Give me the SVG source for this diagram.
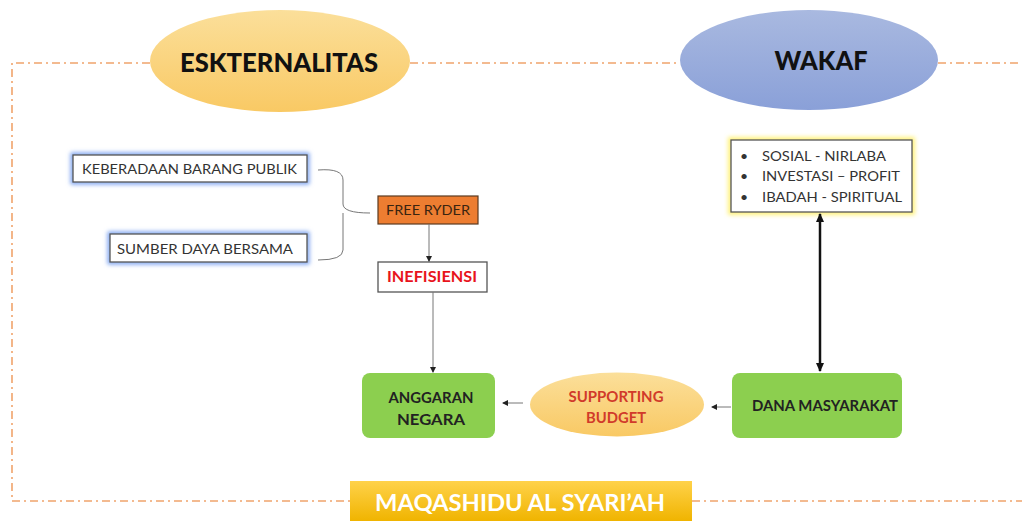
<svg xmlns="http://www.w3.org/2000/svg" width="1022" height="521" viewBox="0 0 1022 521">
<defs>
<linearGradient id="gOrange" x1="0" y1="0" x2="0" y2="1"><stop offset="0" stop-color="#fbdf9a"/><stop offset="1" stop-color="#f9c964"/></linearGradient>
<linearGradient id="gBlue" x1="0" y1="0" x2="0" y2="1"><stop offset="0" stop-color="#a9b9e0"/><stop offset="1" stop-color="#8aa0d8"/></linearGradient>
<linearGradient id="gGold" x1="0" y1="0" x2="0" y2="1"><stop offset="0" stop-color="#ffd24a"/><stop offset="1" stop-color="#f0b400"/></linearGradient>
<filter id="blur" x="-20%" y="-50%" width="140%" height="200%"><feGaussianBlur stdDeviation="2"/></filter>
<marker id="ah" markerWidth="6" markerHeight="6" refX="5" refY="3" orient="auto" markerUnits="userSpaceOnUse"><path d="M0,0 L6,3 L0,6 z" fill="#222"/></marker>
<marker id="ahB" markerWidth="10" markerHeight="10" refX="8" refY="5" orient="auto" markerUnits="userSpaceOnUse"><path d="M0,1 L9,5 L0,9 z" fill="#111"/></marker>
<marker id="ahBs" markerWidth="10" markerHeight="10" refX="2" refY="5" orient="auto" markerUnits="userSpaceOnUse"><path d="M10,1 L1,5 L10,9 z" fill="#111"/></marker>
</defs>
<style>
.frame{fill:none;stroke:#f0a46c;stroke-width:1.6;stroke-dasharray:8 4 2 4}
.t{font-family:Lato,"Open Sans","Liberation Sans",sans-serif}
.big{font-size:26px;font-weight:900;fill:#111;text-anchor:middle}
.box{fill:#fff;stroke:#555;stroke-width:1.3}
.glowB{fill:none;stroke:#7aa2f0;stroke-width:5}
.glowY{fill:none;stroke:#fff27a;stroke-width:6}
.lbl{font-size:14px;fill:#333}
.green{fill:#8ccf4f}
.gt{font-size:15px;font-weight:bold;fill:#222;text-anchor:middle}
.red{font-size:15px;font-weight:bold;fill:#d13a2a;text-anchor:middle}
.conn{fill:none;stroke:#777;stroke-width:1}
</style>

<g id="frame">
<path class="frame" d="M150,63 H12 V501 H350"/>
<path class="frame" d="M410,63 H680"/>
<path class="frame" d="M938,63 H1022"/>
<path class="frame" d="M692,501 H1022"/>
</g>

<g id="eksternalitas">
<ellipse cx="280" cy="61" rx="130" ry="51" fill="url(#gOrange)"/>
<text class="t big" x="279" y="72" textLength="198" lengthAdjust="spacingAndGlyphs">ESKTERNALITAS</text>
</g>

<g id="wakaf">
<ellipse cx="809" cy="60" rx="129" ry="50" fill="url(#gBlue)"/>
<text class="t big" x="821" y="70" textLength="93" lengthAdjust="spacingAndGlyphs">WAKAF</text>
</g>

<g id="keberadaan">
<rect class="glowB" x="73" y="155" width="234" height="27" filter="url(#blur)"/>
<rect class="box" x="73" y="155" width="234" height="27"/>
<text class="t lbl" x="82" y="174" textLength="215" lengthAdjust="spacingAndGlyphs">KEBERADAAN BARANG PUBLIK</text>
</g>

<g id="sumber">
<rect class="glowB" x="110" y="234" width="197" height="28" filter="url(#blur)"/>
<rect class="box" x="110" y="234" width="197" height="28"/>
<text class="t lbl" x="117" y="254" textLength="176" lengthAdjust="spacingAndGlyphs">SUMBER DAYA BERSAMA</text>
</g>

<g id="free-ryder">
<rect x="378" y="196" width="100" height="28" fill="#ed7d31" stroke="#5a3a20" stroke-width="1.2"/>
<text class="t" x="428" y="215" font-size="14" fill="#3a2410" text-anchor="middle" textLength="84" lengthAdjust="spacingAndGlyphs">FREE RYDER</text>
</g>

<g id="inefisiensi">
<rect class="box" x="378" y="262" width="109" height="30"/>
<text class="t red" x="432" y="282" fill="#e8141c" style="fill:#e8141c" textLength="90" lengthAdjust="spacingAndGlyphs">INEFISIENSI</text>
</g>

<g id="wakaf-list">
<rect class="glowY" x="731" y="140" width="181" height="72" filter="url(#blur)"/>
<rect class="box" x="731" y="140" width="181" height="72"/>
<g class="t lbl" fill="#222">
<text x="740" y="161">•</text><text x="762" y="161" textLength="124" lengthAdjust="spacingAndGlyphs">SOSIAL - NIRLABA</text>
<text x="740" y="181">•</text><text x="762" y="181" textLength="138" lengthAdjust="spacingAndGlyphs">INVESTASI – PROFIT</text>
<text x="740" y="202">•</text><text x="762" y="202" textLength="140" lengthAdjust="spacingAndGlyphs">IBADAH - SPIRITUAL</text>
</g>
</g>

<g id="anggaran">
<rect class="green" x="362" y="373" width="133" height="65" rx="8"/>
<text class="t gt" x="431" y="403" textLength="85" lengthAdjust="spacingAndGlyphs">ANGGARAN</text>
<text class="t gt" x="431" y="425" textLength="68" lengthAdjust="spacingAndGlyphs">NEGARA</text>
</g>

<g id="supporting">
<ellipse cx="617" cy="404.5" rx="87" ry="32" fill="url(#gOrange)"/>
<text class="t red" x="616" y="402" textLength="95" lengthAdjust="spacingAndGlyphs">SUPPORTING</text>
<text class="t red" x="616" y="423" textLength="60" lengthAdjust="spacingAndGlyphs">BUDGET</text>
</g>

<g id="dana">
<rect class="green" x="732" y="373" width="170" height="65" rx="8"/>
<text class="t gt" x="825" y="411" textLength="146" lengthAdjust="spacingAndGlyphs">DANA MASYARAKAT</text>
</g>

<g id="maqashidu">
<rect x="350" y="481" width="342" height="40" fill="url(#gGold)"/>
<text class="t" x="520" y="511" font-size="23" font-weight="bold" fill="#fff" text-anchor="middle" textLength="290" lengthAdjust="spacingAndGlyphs">MAQASHIDU AL SYARI’AH</text>
</g>

<g id="connectors">
<path class="conn" stroke="#888" d="M318,170 Q343,168 343,180 V204 Q343,213 370,213 M343,213 V250 Q343,260 318,260"/>
<path class="conn" d="M429,224 V261" marker-end="url(#ah)"/>
<path class="conn" d="M433,292 V372" marker-end="url(#ah)"/>
<path class="conn" d="M523,403 H503" marker-end="url(#ah)"/>
<path class="conn" d="M731,407 H712" marker-end="url(#ah)"/>
<path d="M820,214 V371" stroke="#111" stroke-width="2.5" fill="none" marker-start="url(#ahBs)" marker-end="url(#ahB)"/>
</g>
</svg>
